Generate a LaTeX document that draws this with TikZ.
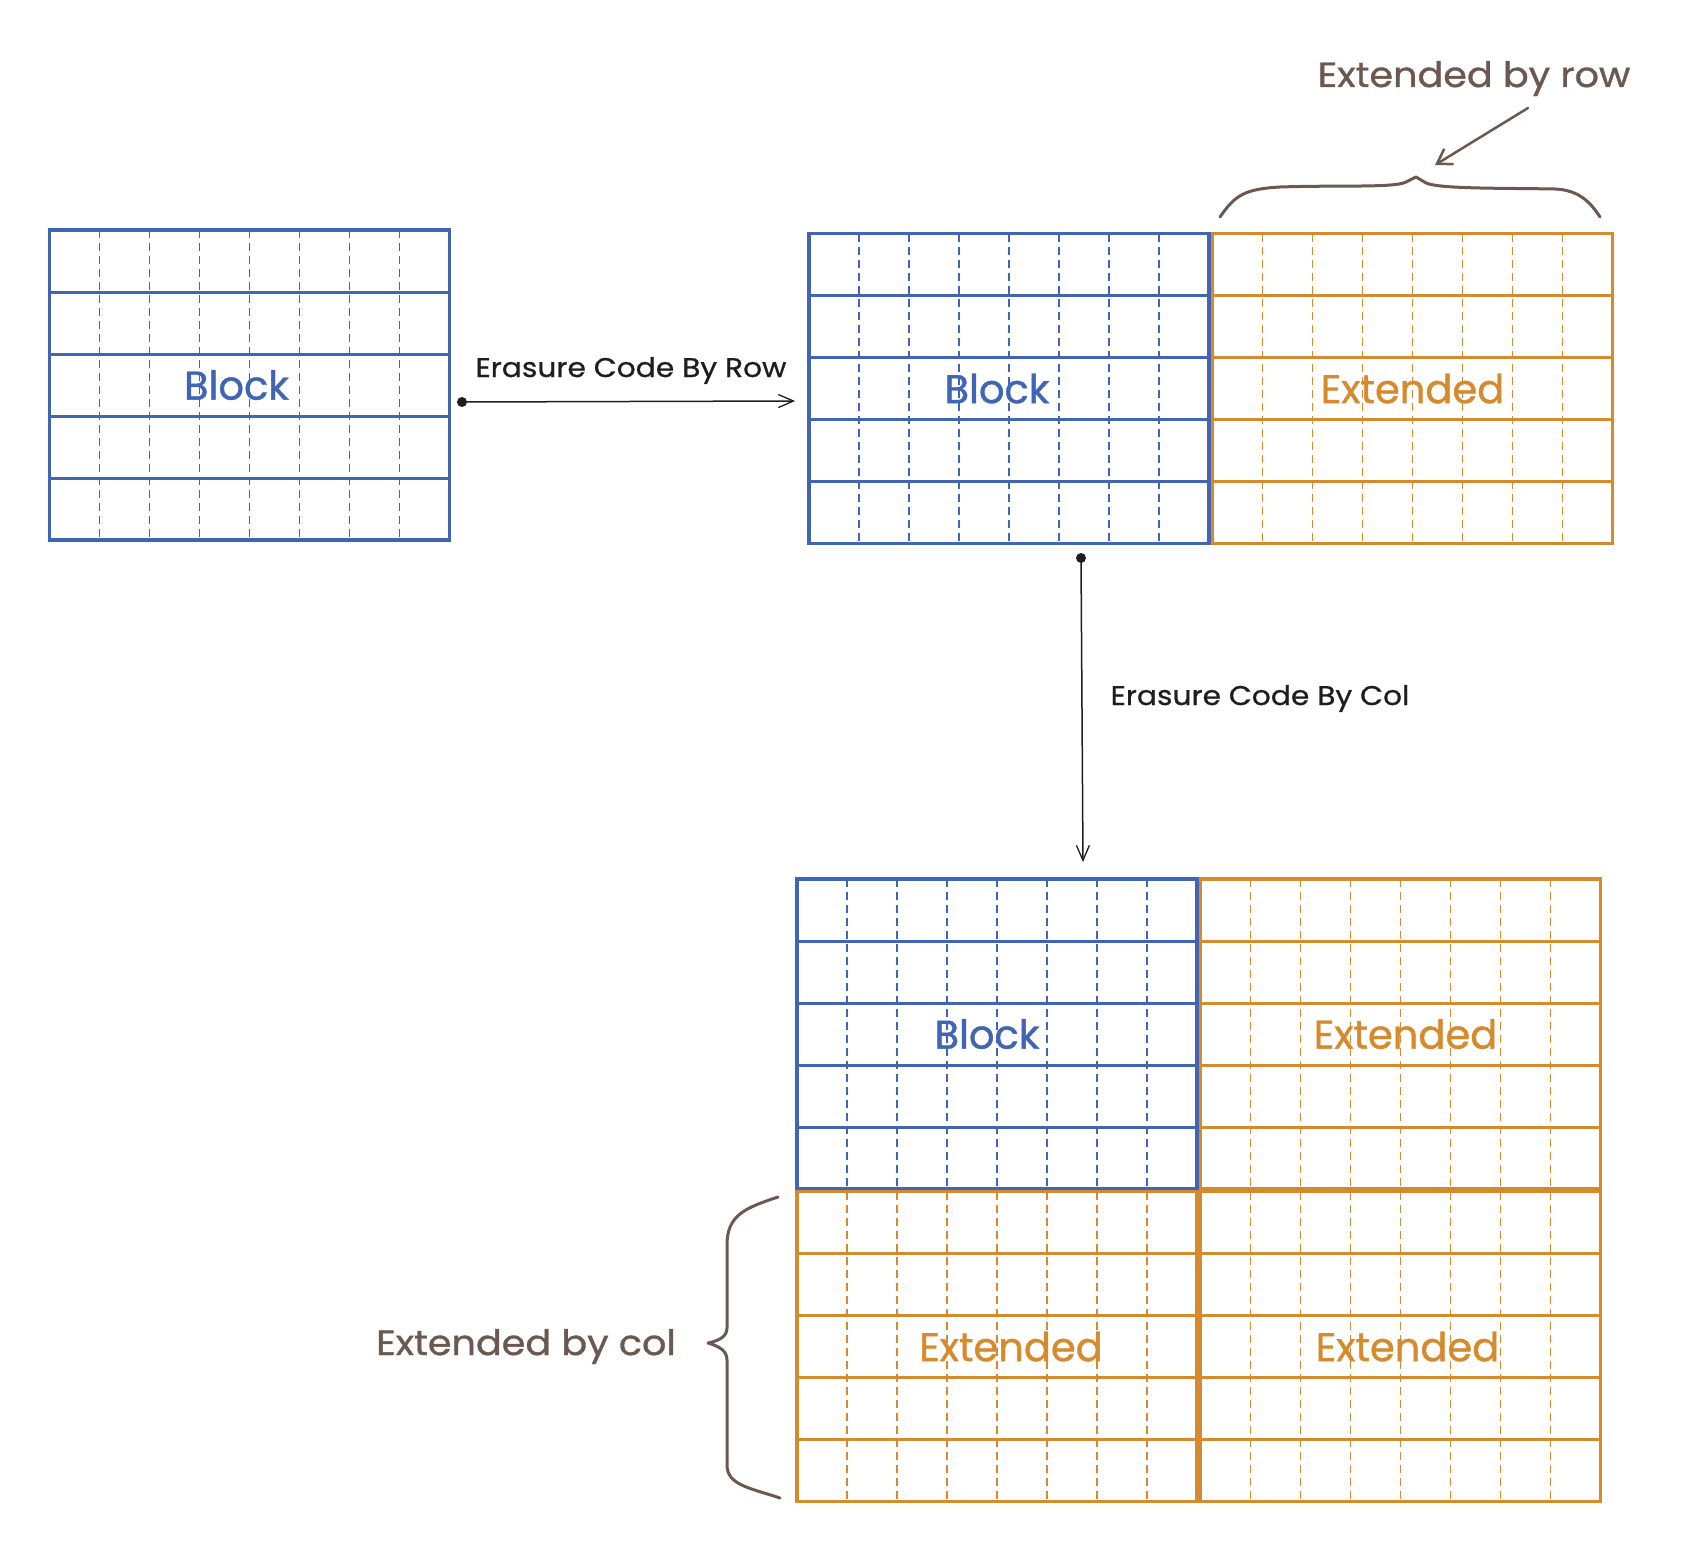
\documentclass[tikz,border=0pt]{standalone}
\usepackage{fontspec}
\setmainfont{Poppins}
\newfontfamily\cellfont{Poppins}[FakeBold=1]
\newfontfamily\labfont{Poppins}[FakeStretch=1.1,FakeBold=0.8]
\newfontfamily\notefont{Poppins}[FakeStretch=1.09,FakeBold=1]
\usetikzlibrary{calc,arrows.meta}
\definecolor{blu}{RGB}{64,101,181}
\definecolor{org}{RGB}{214,138,46}
\definecolor{brn}{RGB}{107,88,80}
\definecolor{ink}{RGB}{30,30,30}
\newcommand{\gridlines}[2]{%
  \foreach \i [evaluate=\i as \f using \i/5] in {1,...,4}
    \draw[#2, line width=3pt] ($(#1.north west)!\f!(#1.south west)$) -- ($(#1.north east)!\f!(#1.south east)$);
  \foreach \j [evaluate=\j as \g using \j/8] in {1,...,7}
    \draw[#2, line width=1.8pt, dash pattern=on 8pt off 5pt] ($(#1.north west)!\g!(#1.north east)$) -- ($(#1.south west)!\g!(#1.south east)$);
}
\begin{document}
\begin{tikzpicture}[x=1pt,y=-1pt,
  gridbox/.style={rectangle, draw=#1, line width=3.5pt, minimum width=400pt, minimum height=310pt, inner sep=0pt, outer sep=0pt},
  celltext/.style={text=#1, font=\cellfont\fontsize{40}{48}\selectfont, inner sep=0pt},
  lab/.style={text=ink, font=\labfont\fontsize{27}{32}\selectfont, inner sep=0pt},
  note/.style={text=brn, font=\notefont\fontsize{35}{42}\selectfont, inner sep=0pt},
  conn/.style={ink, line width=1.5pt, -{Straight Barb[length=15pt,width=13pt,line width=1.3pt]}},
  brace/.style={brn, line width=3pt, line cap=round, line join=round},
]
\useasboundingbox (0,0) rectangle (1702,1568);

% blocks
\node[gridbox=blu] (b1) at (249.5,385) {};
\node[gridbox=blu] (b2) at (1009,388.5) {};
\node[gridbox=org] (o2) at (1412.5,388.5) {};
\node[gridbox=blu] (b3) at (997,1034) {};
\node[gridbox=org] (o3) at (1400.5,1034) {};
\node[gridbox=org] (o4) at (997,1346.5) {};
\node[gridbox=org] (o5) at (1400.5,1346.5) {};

\gridlines{b1}{blu}
\gridlines{b2}{blu}
\gridlines{o2}{org}
\gridlines{b3}{blu}
\gridlines{o3}{org}
\gridlines{o4}{org}
\gridlines{o5}{org}

% texts in blocks
\node[celltext=blu] (t1) at ([xshift=-13pt]b1.center) {Block};
\node[celltext=blu] (t2) at ([xshift=-12pt]b2.center) {Block};
\node[celltext=org] (t3) at (o2.center) {Extended};
\node[celltext=blu] (t4) at ([xshift=-10pt]b3.center) {Block};
\node[celltext=org] (t5) at ([xshift=5pt]o3.center) {Extended};
\node[celltext=org] (t6) at ([xshift=14pt]o4.center) {Extended};
\node[celltext=org] (t7) at ([xshift=7pt]o5.center) {Extended};

% arrows
\coordinate (s1) at (462,402);
\coordinate (e1) at (795,401);
\fill[ink] (s1) circle (5pt);
\draw[conn] (s1) -- (e1);
\node[lab, anchor=base] (l1) at (631,377) {Erasure Code By Row};

\coordinate (s2) at (1081,558);
\coordinate (e2) at (1083,862);
\fill[ink] (s2) circle (5pt);
\draw[conn] (s2) -- (e2);
\node[lab, anchor=base] (l2) at (1260,705) {Erasure Code By Col};

% extended by row
\node[note, anchor=base] (l3) at (1474,87) {Extended by row};
\coordinate (ra) at (1528,108);
\coordinate (rb) at (1435,165);
\draw[brn, line width=2.5pt, line cap=round, -{Straight Barb[length=14pt,width=18pt,line width=2.5pt]}] (ra) -- (rb);
\draw[brace] (1220,217) .. controls (1235,195) and (1245,189) .. (1280,187)
  .. controls (1340,185) and (1395,188) .. (1406,182) -- (1416,177) -- (1426,183)
  .. controls (1440,189) and (1500,188) .. (1555,189)
  .. controls (1575,190) and (1588,198) .. (1600,217);

% extended by col
\node[note, anchor=base] (l4) at (526,1355) {Extended by col};
\draw[brace] (778,1197) .. controls (745,1208) and (727,1215) .. (727,1245) -- (727,1328)
  .. controls (727,1337) and (718,1341) .. (708,1343)
  .. controls (718,1346) and (727,1350) .. (727,1360) -- (727,1465)
  .. controls (727,1485) and (750,1488) .. (780,1498);
\end{tikzpicture}
\end{document}
